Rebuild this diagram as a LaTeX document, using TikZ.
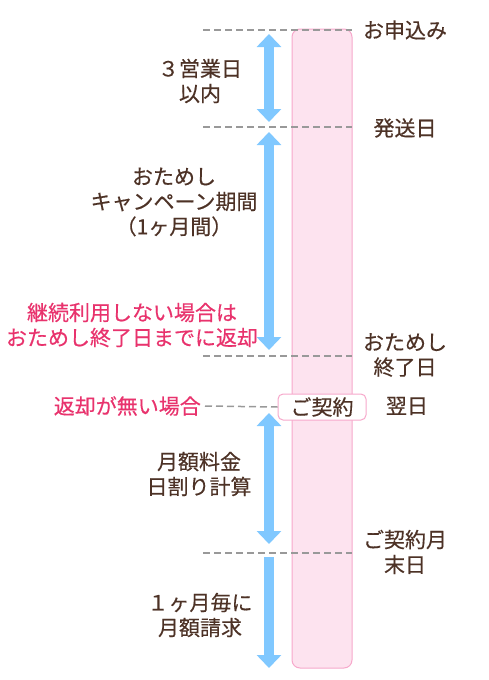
\documentclass[tikz,border=0pt]{standalone}
\usepackage{fontspec}
\setmainfont{Noto Sans CJK JP}[FakeBold=0.4]
\usetikzlibrary{arrows.meta}
\definecolor{textbrown}{HTML}{4D3226}
\definecolor{notepink}{HTML}{E8336D}
\definecolor{barfill}{HTML}{FDE3EF}
\definecolor{barline}{HTML}{F7A8CB}
\definecolor{arrowblue}{HTML}{80C8FF}
\definecolor{guidegray}{HTML}{999999}
\begin{document}
\begin{tikzpicture}[
    x=1pt,
    y=-1pt,
    txt/.style={
        inner sep=0pt,
        align=center,
        text=textbrown,
        font=\fontsize{21}{25}\selectfont
    },
    note/.style={
        txt,
        text=notepink
    },
    guide/.style={
        draw=guidegray,
        line width=1.5pt,
        dash pattern=on 7pt off 4pt
    },
    period/.style={
        draw=arrowblue,
        line width=10pt,
        -{Triangle[width=24pt,length=13pt]}
    },
    periodboth/.style={
        period,
        {Triangle[width=24pt,length=13pt]}-{Triangle[width=24pt,length=13pt]}
    },
    contract/.style={
        txt,
        draw=barline,
        line width=1pt,
        fill=white,
        rounded corners=5pt,
        minimum width=88pt,
        minimum height=26pt
    }
]
\useasboundingbox (0,0) rectangle (488,680);

% =====================
% Barra
% =====================
\draw[barline, fill=barfill, line width=1pt, rounded corners=8pt]
    (292,29) rectangle (352,668);

% =====================
% Lineas guia
% =====================
\coordinate (g1a) at (203,30);  \coordinate (g1b) at (352,30);
\coordinate (g2a) at (203,127); \coordinate (g2b) at (352,127);
\coordinate (g3a) at (203,356); \coordinate (g3b) at (352,356);
\coordinate (g5a) at (203,553); \coordinate (g5b) at (352,553);
\draw[guide] (g1a) -- (g1b);
\draw[guide] (g2a) -- (g2b);
\draw[guide] (g3a) -- (g3b);
\draw[guide] (g5a) -- (g5b);

% =====================
% Eventos
% =====================
\node[txt] (apply)    at (405,30)  {お申込み};
\node[txt] (ship)     at (405,128) {発送日};
\node[txt] (trialend) at (405,355) {おためし\\終了日};
\node[txt] (nextday)  at (407,406) {翌日};
\node[txt] (monthend) at (405,552) {ご契約月\\末日};

\node[contract] (sign) at (322,407) {ご契約};
\node[note, anchor=east] (noreturn) at (201,406) {返却が無い場合};
\draw[guide] (noreturn.east) ++(4,0) -- (sign.west);

% =====================
% Periodos
% =====================
\coordinate (p1t) at (269,34);  \coordinate (p1b) at (269,122);
\coordinate (p2t) at (269,132); \coordinate (p2b) at (269,350);
\coordinate (p3t) at (269,413); \coordinate (p3b) at (269,544);
\coordinate (p4t) at (269,557); \coordinate (p4b) at (269,668);
\draw[periodboth] (p1t) -- (p1b);
\draw[periodboth] (p2t) -- (p2b);
\draw[periodboth] (p3t) -- (p3b);
\draw[period]     (p4t) -- (p4b);

\node[txt] (within)   at (200,81)  {３営業日\\以内};
\node[txt] (campaign) at (174,202) {おためし\\キャンペーン期間\\（1ヶ月間）};
\node[note] (giveback) at (132,325) {継続利用しない場合は\\おためし終了日までに返却};
\node[txt] (daily)    at (199,474) {月額料金\\日割り計算};
\node[txt] (monthly)  at (200,615) {１ヶ月毎に\\月額請求};

\end{tikzpicture}
\end{document}
